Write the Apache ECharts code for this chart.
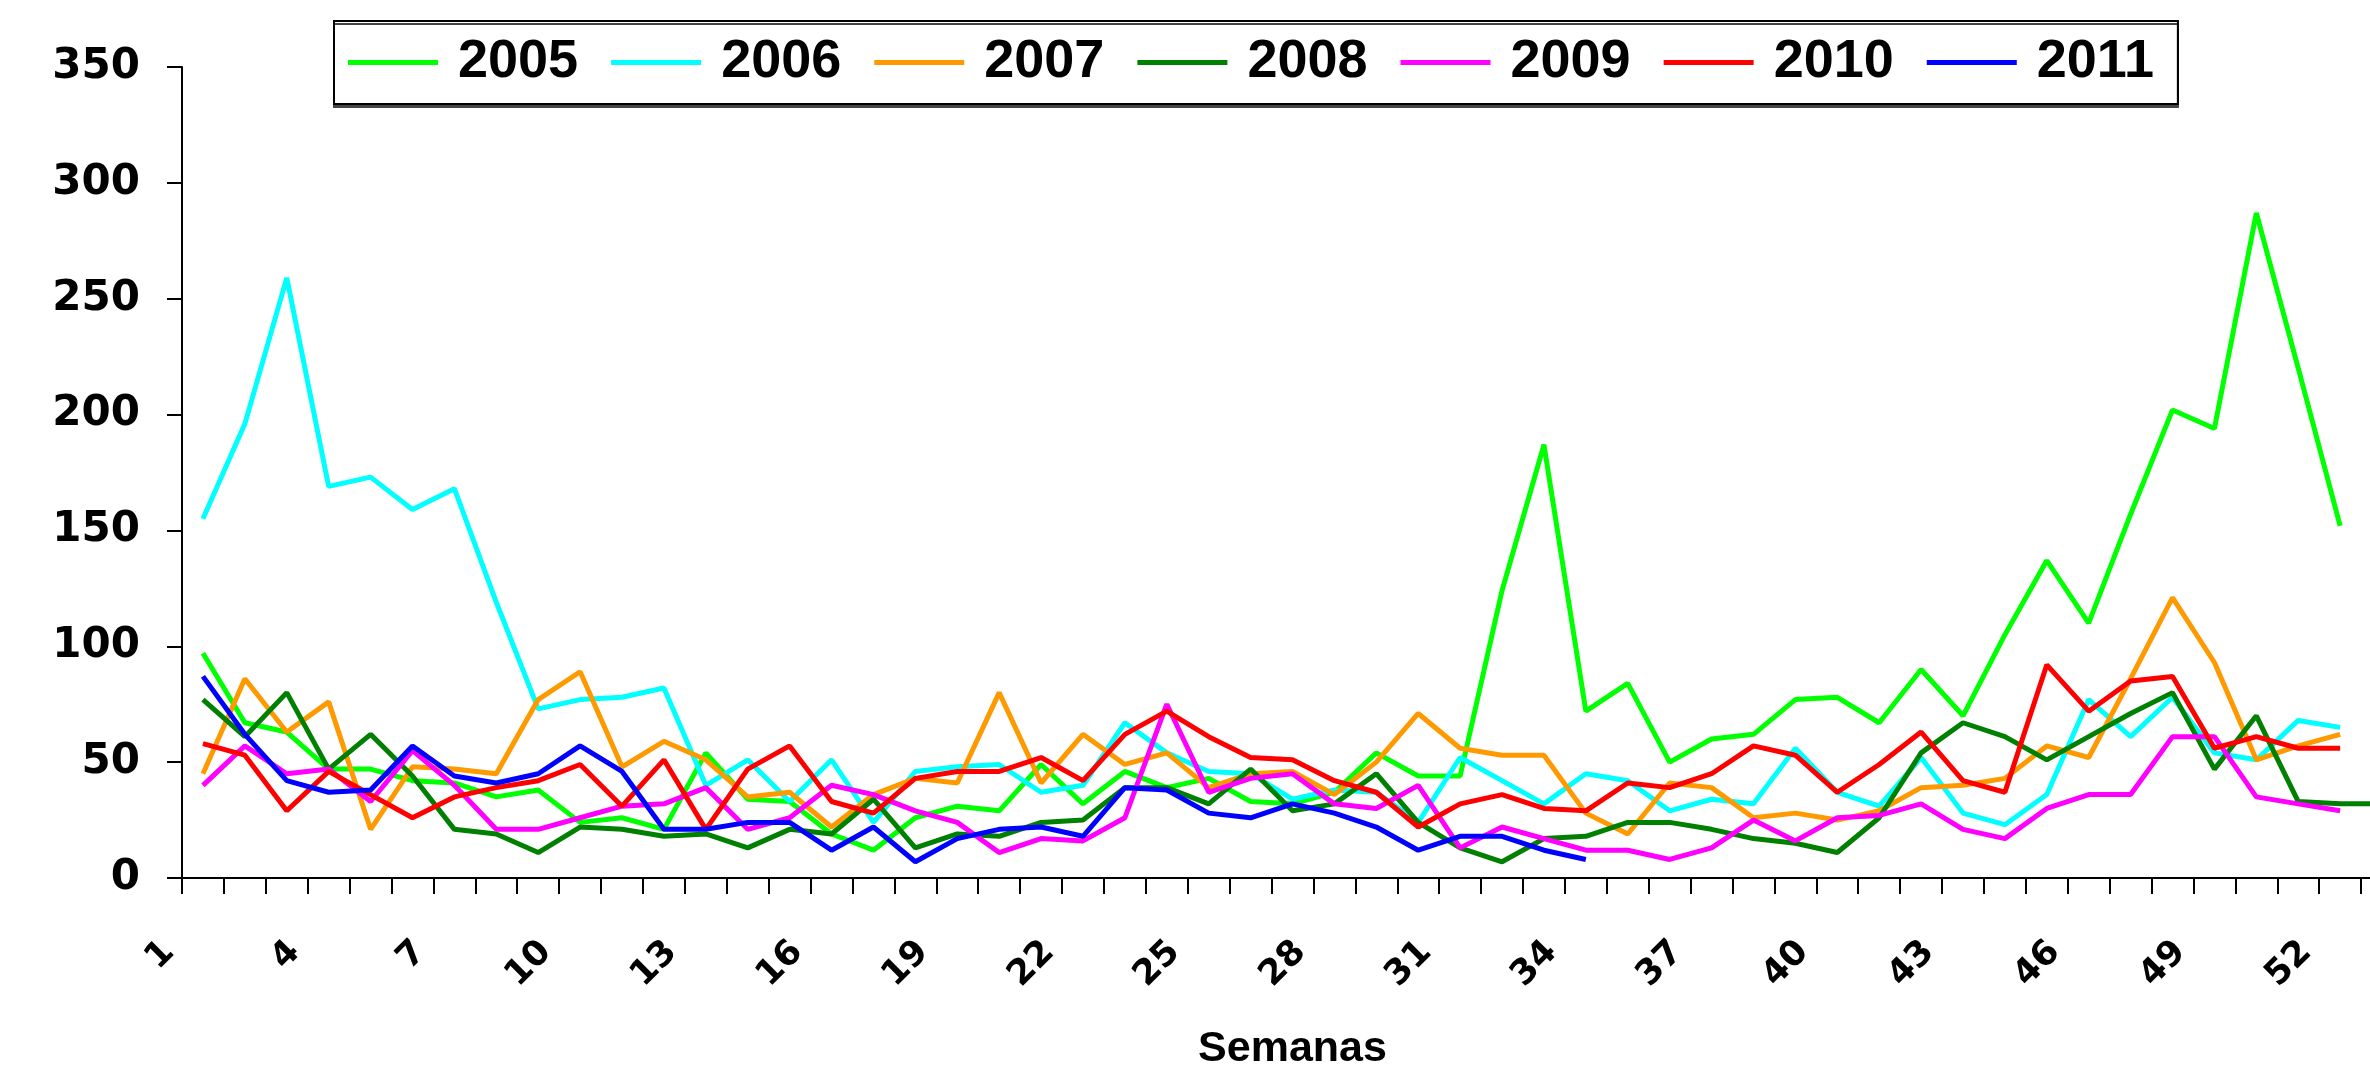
<!DOCTYPE html>
<html lang="en">
<head>
  <meta charset="UTF-8">
  <title>Semanas 2005-2011</title>
  <style>
    html, body { margin: 0; padding: 0; background: #fff; }
    #chart { width: 2370px; height: 1081px; }
  </style>
</head>
<body>
<div id="chart"></div>
<script src="https://cdn.jsdelivr.net/npm/echarts@6/dist/echarts.min.js"></script>
<script>
  // semanas 1..53 (la 53 queda cortada en el borde derecho)
  const weeks = [];
  for (let i = 1; i <= 53; i++) weeks.push(String(i));

  const years = ['2005', '2006', '2007', '2008', '2009', '2010', '2011'];
  const colors = ['#00ff00', '#00ffff', '#ff9900', '#008000', '#ff00ff', '#ff0000', '#0000ff'];

  const y2005 = [97, 67, 63, 47, 47, 42, 41, 35, 38, 24, 26, 21, 54, 34, 33, 19, 12, 26, 31, 29,
    49, 32, 46, 39, 43, 33, 32, 37, 54, 44, 44, 124, 187, 72, 84, 50, 60, 62, 77, 78,
    67, 90, 70, 105, 137, 110, 157, 202, 194, 287, 220, 152, null];
  const y2006 = [155, 196, 259, 169, 173, 159, 168, 119, 73, 77, 78, 82, 40, 51, 33, 51, 24, 46, 48, 49,
    37, 40, 67, 54, 46, 45, 34, 38, 37, 24, 52, 42, 32, 45, 42, 29, 34, 32, 56, 37,
    31, 52, 28, 23, 36, 77, 61, 78, 54, 51, 68, 65, null];
  const y2007 = [45, 86, 63, 76, 21, 48, 47, 45, 77, 89, 48, 59, 51, 35, 37, 22, 36, 43, 41, 80,
    41, 62, 49, 54, 39, 45, 46, 36, 50, 71, 56, 53, 53, 28, 19, 41, 39, 26, 28, 25,
    29, 39, 40, 43, 57, 52, 86, 121, 93, 51, 57, 62, null];
  const y2008 = [77, 61, 80, 47, 62, 44, 21, 19, 11, 22, 21, 18, 19, 13, 21, 19, 34, 13, 19, 18,
    24, 25, 39, 39, 32, 47, 29, 32, 45, 24, 13, 7, 17, 18, 24, 24, 21, 17, 15, 11,
    26, 54, 67, 61, 51, 61, 71, 80, 47, 70, 33, 32, 32];
  const y2009 = [40, 57, 45, 47, 33, 55, 40, 21, 21, 26, 31, 32, 39, 21, 26, 40, 36, 29, 24, 11,
    17, 16, 26, 75, 37, 43, 45, 32, 30, 40, 13, 22, 17, 12, 12, 8, 13, 25, 16, 26,
    27, 32, 21, 17, 30, 36, 36, 61, 61, 35, 32, 29, null];
  const y2010 = [58, 53, 29, 46, 36, 26, 35, 39, 42, 49, 31, 51, 21, 47, 57, 33, 28, 43, 46, 46,
    52, 42, 62, 72, 61, 52, 51, 42, 37, 22, 32, 36, 30, 29, 41, 39, 45, 57, 53, 37,
    49, 63, 42, 37, 92, 72, 85, 87, 56, 61, 56, 56, null];
  const y2011 = [87, 62, 42, 37, 38, 57, 44, 41, 45, 57, 46, 21, 21, 24, 24, 12, 22, 7, 17, 21,
    22, 18, 39, 38, 28, 26, 32, 28, 22, 12, 18, 18, 12, 8, null, null, null, null, null, null,
    null, null, null, null, null, null, null, null, null, null, null, null, null];

  const seriesData = [y2005, y2006, y2007, y2008, y2009, y2010, y2011];
  const yTicks = { min: 0, max: 350, step: 50 };

  const font = '"Liberation Sans", Arial, sans-serif';
  const axisFont = '"DejaVu Sans", sans-serif';

  const chart = echarts.init(document.getElementById('chart'));

  const option = {
    animation: false,
    backgroundColor: '#fff',
    color: colors,
    legend: {
      data: years,
      icon: 'rect',
      left: 334,
      top: 21,
      orient: 'horizontal',
      padding: [14, 24, 14, 14],
      itemGap: 33,
      itemWidth: 90,
      itemHeight: 5,
      backgroundColor: '#fff',
      borderColor: '#000',
      borderWidth: 2,
      shadowColor: '#444',
      shadowOffsetX: 0,
      shadowOffsetY: 3,
      shadowBlur: 0,
      textStyle: {
        fontFamily: font,
        fontWeight: 'bold',
        fontSize: 54,
        lineHeight: 55,
        color: '#000',
        padding: [0, 0, 0, 15]
      }
    },
    grid: {
      left: 182,
      top: 67,
      width: 2221,
      height: 811,
      outerBoundsMode: 'none'
    },
    xAxis: {
      type: 'category',
      data: weeks,
      boundaryGap: true,
      name: 'Semanas',
      nameLocation: 'middle',
      nameGap: 150,
      nameTextStyle: { fontFamily: font, fontWeight: 'bold', fontSize: 43, color: '#000' },
      axisLine: { lineStyle: { color: '#000', width: 2 } },
      axisTick: { show: true, interval: 0, length: 16, lineStyle: { color: '#000', width: 2 } },
      axisLabel: {
        interval: 2,
        rotate: 45,
        margin: 35,
        padding: [0, 48, 0, 0],
        fontFamily: axisFont,
        fontWeight: 'bold',
        fontSize: 35,
        color: '#000'
      },
      splitLine: { show: false }
    },
    yAxis: {
      type: 'value',
      min: yTicks.min,
      max: yTicks.max,
      interval: yTicks.step,
      axisLine: { show: true, lineStyle: { color: '#000', width: 2 } },
      axisTick: { show: true, length: 15, lineStyle: { color: '#000', width: 2 } },
      axisLabel: {
        margin: 42,
        fontFamily: axisFont,
        fontWeight: 'bold',
        fontSize: 42,
        color: '#000'
      },
      splitLine: { show: false }
    },
    series: years.map((name, i) => ({
      name: name,
      type: 'line',
      data: seriesData[i],
      symbol: 'none',
      connectNulls: false,
      lineStyle: { width: 5, color: colors[i] },
      itemStyle: { color: colors[i] }
    }))
  };

  chart.setOption(option);
</script>
</body>
</html>
